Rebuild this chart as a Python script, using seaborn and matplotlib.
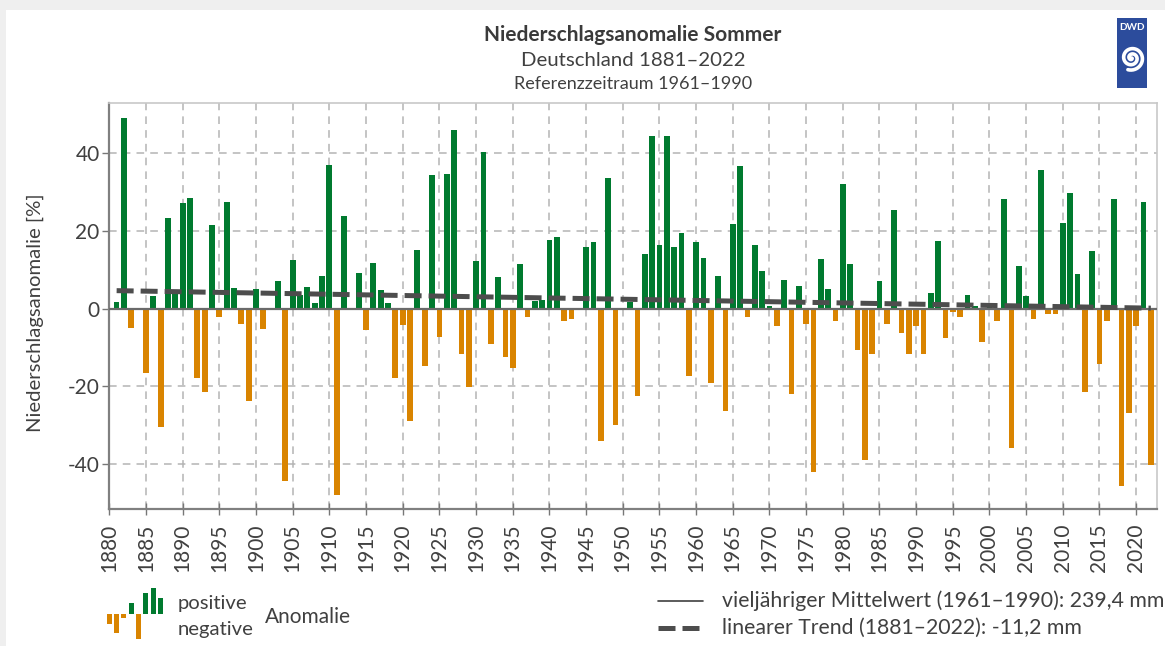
import numpy as np
import pandas as pd
import seaborn as sns
import matplotlib.pyplot as plt
from matplotlib.lines import Line2D
from matplotlib.patches import Rectangle

# Sommer-Niederschlagsanomalie Deutschland, Abweichung vom Mittel 1961-1990 in %
years = list(range(1881, 2023))
anomaly = [
    1.7, 49.1, -5.0, 0.0, -16.6, 3.3, -30.4, 23.3, 4.8, 27.1,        # 1881-1890
    28.5, -17.8, -21.4, 21.5, -2.1, 27.5, 5.3, -4.1, -23.7, 5.1,     # 1891-1900
    -5.2, 0.0, 7.1, -44.3, 12.5, 3.5, 5.6, 1.5, 8.4, 37.0,           # 1901-1910
    -48.0, 23.9, -0.5, 9.2, -5.5, 11.8, 4.8, 1.5, -18.0, -4.2,       # 1911-1920
    -28.9, 15.1, -14.9, 34.4, -7.3, 34.7, 46.0, -11.8, -20.3, 12.3,  # 1921-1930
    40.3, -9.1, 8.2, -12.4, -15.2, 11.5, -2.1, 2.0, 2.2, 17.7,       # 1931-1940
    18.5, -3.1, -2.7, 0.0, 15.9, 17.2, -34.1, 33.6, -30.0, 0.0,      # 1941-1950
    1.7, -22.5, 14.1, 44.5, 16.4, 44.5, 15.9, 19.5, -17.5, 17.2,     # 1951-1960
    13.0, -19.3, 8.4, -26.5, 21.8, 36.7, -2.3, 16.4, 9.7, 0.7,       # 1961-1970
    -4.6, 7.4, -22.1, 5.8, -3.9, -42.0, 12.8, 5.1, -3.3, 32.1,       # 1971-1980
    11.5, -10.6, -39.1, -11.8, 7.1, -3.9, 25.4, -6.4, -11.6, -4.6,   # 1981-1990
    -11.8, 4.0, 17.4, -7.7, -0.8, -2.3, 3.5, 0.7, -8.5, 1.0,         # 1991-2000
    -3.3, 28.2, -35.8, 11.0, 3.3, -2.8, 35.7, -1.5, -1.5, 22.1,      # 2001-2010
    29.8, 8.9, -21.6, 14.8, -14.4, -3.1, 28.2, -45.6, -26.8, -4.6,   # 2011-2020
    27.5, -40.2,                                                     # 2021-2022
]
trend_years = [1881, 2022]
trend_values = [4.6, 0.1]

y_ticks = [-40, -20, 0, 20, 40]
x_ticks = list(range(1880, 2021, 5))

# kleines Legendensymbol (Balken)
icon_values = [-10, -19, -4.5, 10.5, -25, 21, 25.5, 15.5]

green = "#007a2f"
orange = "#d98400"
textcol = "#404040"

df = pd.DataFrame({"year": years, "value": anomaly})
df["sign"] = np.where(df["value"] >= 0, "pos", "neg")
assert len(df) == 142

sns.set_theme(style="white")
plt.rcParams["font.family"] = ["Lato", "DejaVu Sans"]

W, H = 1165, 646
fig = plt.figure(figsize=(W / 100, H / 100), dpi=100)
fig.patch.set_facecolor("#efefef")
fig.add_artist(Rectangle((6 / W, 0), 1, 1 - 10 / H, transform=fig.transFigure,
                         facecolor="white", edgecolor="none", zorder=-10))


def fx(px):
    return px / W


def fy(py):
    return 1 - py / H


ax = fig.add_axes([fx(109.3), fy(509.3), fx(1156.7 - 109.3), (509.3 - 102.7) / H])

sns.barplot(data=df, x="year", y="value", hue="sign",
            palette={"pos": green, "neg": orange}, dodge=False,
            native_scale=True, width=0.78, saturation=1, errorbar=None,
            legend=False, ax=ax, zorder=3, linewidth=0, edgecolor="none")
ax.axhline(0, color="#6a6a6a", lw=1.6, zorder=4)
sns.lineplot(x=trend_years, y=trend_values, color="#4d4d4d", lw=3.6,
             linestyle=(0, (3.4, 1.4)), ax=ax, zorder=5)

ax.set_xlim(1880, 2022.8)
ax.set_ylim(-51.7, 53)
ax.set_xticks(x_ticks)
ax.set_xticklabels([str(t) for t in x_ticks], rotation=90, fontsize=15, color=textcol)
ax.set_yticks(y_ticks)
ax.set_yticklabels([str(t) for t in y_ticks], fontsize=15, color=textcol)
ax.set_xlabel("")
ax.set_ylabel("")
ax.grid(True, color="#b4b4b4", lw=1.1, linestyle=(0, (5, 4)), zorder=0)
ax.set_axisbelow(True)
ax.tick_params(axis="x", direction="inout", length=9, width=1, color="#777777", pad=6, bottom=True)
ax.tick_params(axis="y", direction="out", length=5, width=1, color="#777777", pad=2, left=True)
for s in ["left", "bottom"]:
    ax.spines[s].set_color("#808080")
    ax.spines[s].set_linewidth(1.6)
for s in ["top", "right"]:
    ax.spines[s].set_color("#c8c8c8")
    ax.spines[s].set_linewidth(1.2)

# Titel
cx = fx(633)
fig.text(cx, fy(35), "Niederschlagsanomalie Sommer", ha="center", va="center",
         fontsize=15, fontweight="bold", color="#3a3a3a")
fig.text(cx, fy(61), "Deutschland 1881–2022", ha="center", va="center",
         fontsize=14.7, color=textcol)
fig.text(cx, fy(84), "Referenzzeitraum 1961–1990", ha="center", va="center",
         fontsize=13, color=textcol)
fig.text(fx(35), fy(313), "Niederschlagsanomalie [%]", ha="center", va="center",
         rotation=90, fontsize=14.6, color=textcol)

# Legende links: Symbol + Text
iax = fig.add_axes([fx(105.5), fy(639), fx(58.7), 51.5 / H])
sns.barplot(x=list(range(len(icon_values))), y=icon_values,
            hue=["p" if v > 0 else "n" for v in icon_values],
            palette={"p": green, "n": orange}, dodge=False, width=0.68,
            saturation=1, legend=False, ax=iax, linewidth=0, edgecolor="none")
iax.set_ylim(-25.5, 26)
iax.set_xlim(-0.5, len(icon_values) - 0.5)
iax.axis("off")

fig.text(fx(178), fy(604), "positive", ha="left", va="center", fontsize=14.6, color=textcol)
fig.text(fx(178), fy(629), "negative", ha="left", va="center", fontsize=14.6, color=textcol)
fig.text(fx(265), fy(617), "Anomalie", ha="left", va="center", fontsize=15, color=textcol)

# Legende rechts
fig.add_artist(Line2D([fx(658), fx(703)], [fy(601), fy(601)], color="#404040", lw=1.2))
fig.add_artist(Line2D([fx(658), fx(703)], [fy(628), fy(628)], color="#4d4d4d", lw=3.6,
                      linestyle=(0, (3.4, 1.4))))
fig.text(fx(722), fy(601), "vieljähriger Mittelwert (1961–1990): 239,4 mm",
         ha="left", va="center", fontsize=15.3, color=textcol)
fig.text(fx(722), fy(628), "linearer Trend (1881–2022): -11,2 mm",
         ha="left", va="center", fontsize=15.3, color=textcol)

# DWD-Logo
lax = fig.add_axes([fx(1116.7), fy(88), fx(30), 70 / H])
lax.set_facecolor("#2c4c9c")
lax.set_xlim(0, 30)
lax.set_ylim(0, 70)
lax.set_xticks([])
lax.set_yticks([])
for s in lax.spines.values():
    s.set_visible(False)
lax.text(15, 61, "DWD", ha="center", va="center", color="white",
         fontsize=7.2, fontweight="bold")
theta = np.linspace(0, 4.6 * np.pi, 300)
r = 0.85 * theta
lax.plot(15 + r * np.cos(theta), 30 - r * np.sin(theta), color="white", lw=2.6,
         solid_capstyle="round")

fig.savefig("out.png", dpi=100)
